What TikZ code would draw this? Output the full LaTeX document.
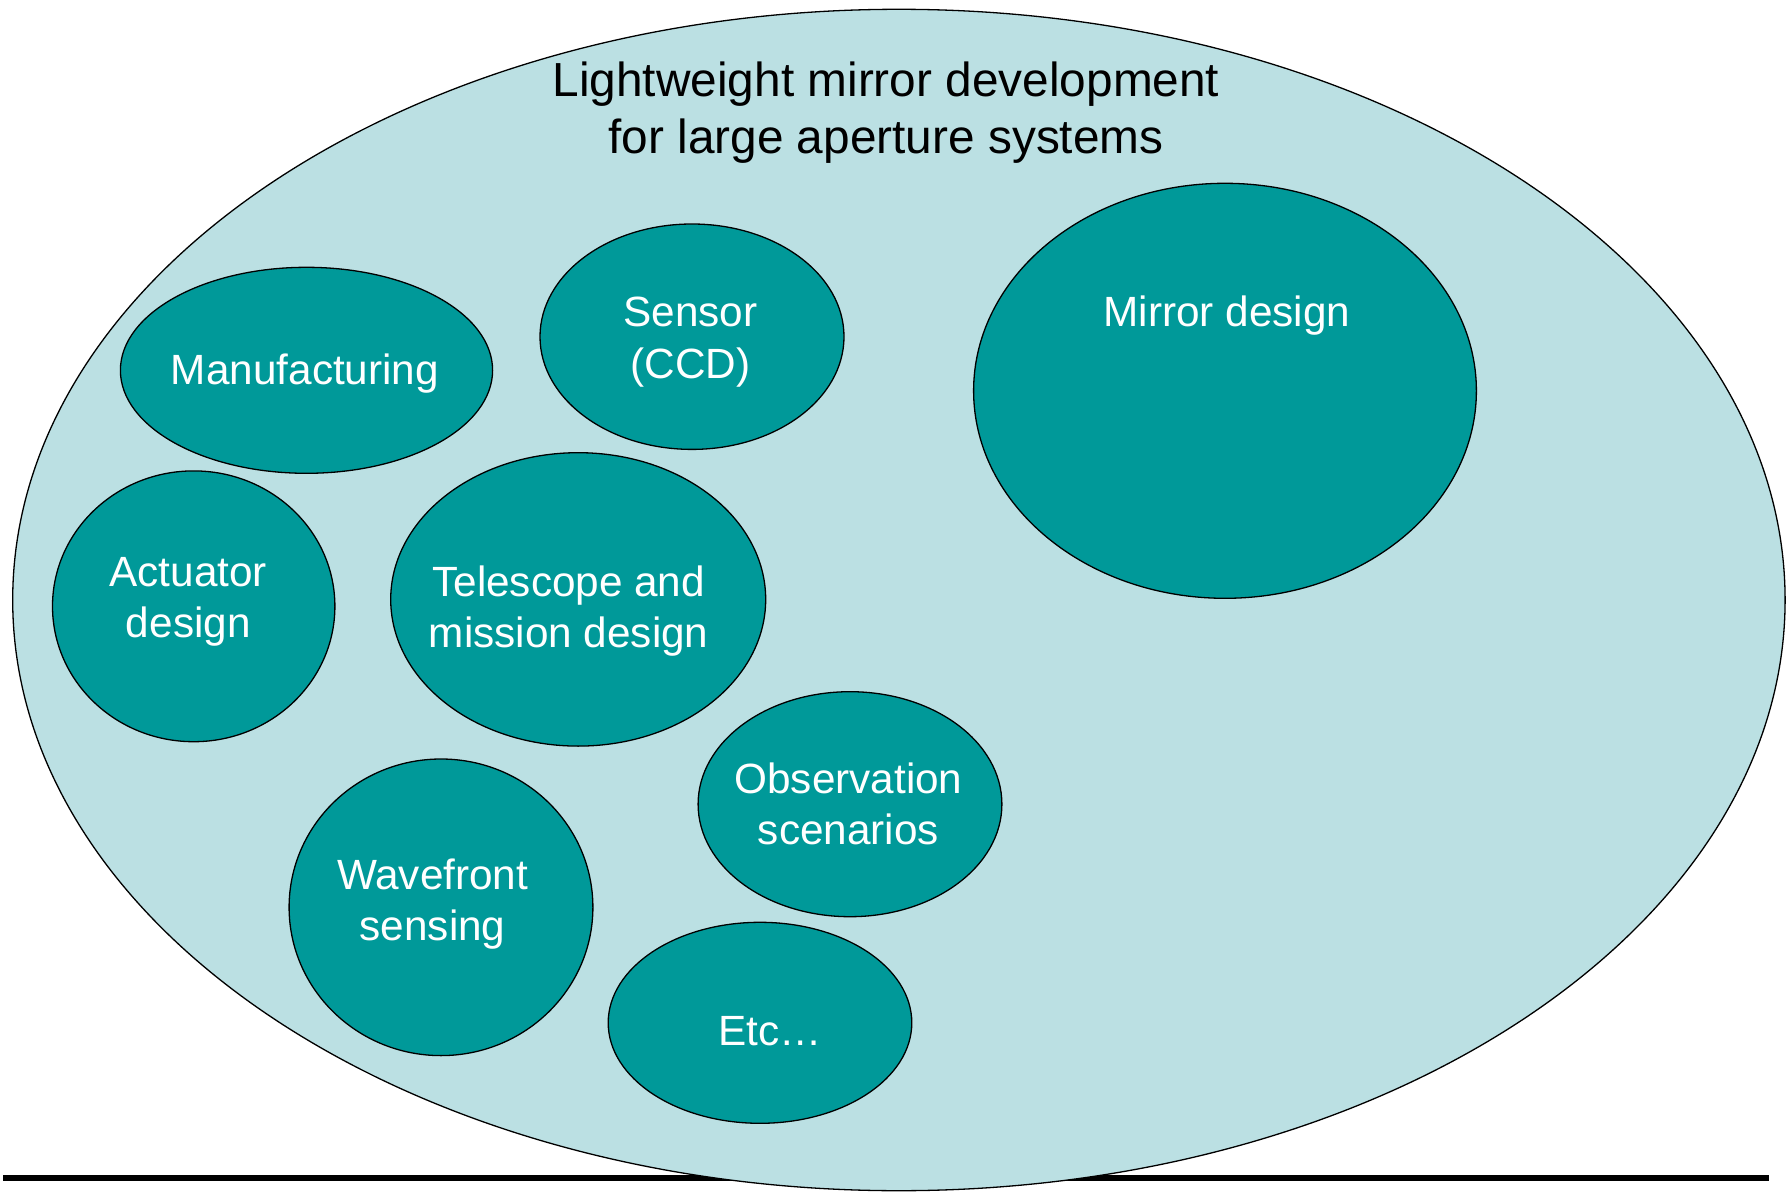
\documentclass[tikz,border=0pt]{standalone}
\usepackage{fontspec}
\setmainfont{Liberation Sans}
\usetikzlibrary{shapes.geometric}

\definecolor{fieldfill}{HTML}{BBE0E3}
\definecolor{topicfill}{HTML}{009999}

% two centred lines whose baseline is the baseline of the first line
\newcommand\stacked[2]{\vtop{\halign{\hfil##\hfil\cr#1\cr#2\cr}}}

\tikzset{
  field/.style={ellipse, draw=black, line width=1.3pt, fill=fieldfill, inner sep=0pt},
  topic/.style={ellipse, draw=black, line width=1.3pt, fill=topicfill, inner sep=0pt},
  topictext/.style={text=white, font=\fontsize{42.3}{51.5}\selectfont, anchor=base, inner sep=0pt},
  headtext/.style={text=black, font=\fontsize{47.8}{57.3}\selectfont, anchor=base, inner sep=0pt},
  groundrule/.style={draw=black, line width=5.7pt}
}

\begin{document}
\begin{tikzpicture}[x=1pt, y=-1pt]
\useasboundingbox (0,0) rectangle (1792,1193);

% ground line, partly hidden behind the main field
\coordinate (ruleL) at (3,1178);
\coordinate (ruleR) at (1769,1178);
\draw[groundrule] (ruleL) -- (ruleR);

% main field
\node[field, minimum width=1772.4pt, minimum height=1181.4pt] (program) at (898.9,600) {};
\node[headtext] (heading) at (886,96.7)
  {\stacked{Lightweight mirror development}{for large aperture systems}};

% topic areas
\node[topic, minimum width=372.2pt, minimum height=206pt]   (manuf)  at (306.5,370.3) {};
\node[topic, minimum width=304pt,   minimum height=225.4pt] (sensor) at (692,336.7) {};
\node[topic, minimum width=502.8pt, minimum height=415pt]   (mirror) at (1225,390.8) {};
\node[topic, minimum width=282.4pt, minimum height=270.8pt] (actu)   at (193.7,606.3) {};
\node[topic, minimum width=375pt,   minimum height=293.4pt] (tele)   at (578.2,599.4) {};
\node[topic, minimum width=303.8pt, minimum height=225pt]   (obs)    at (850,804.2) {};
\node[topic, minimum width=303.8pt, minimum height=296.6pt] (wave)   at (441,907.3) {};
\node[topic, minimum width=303.6pt, minimum height=201pt]   (etc)    at (760,1022.8) {};

% topic labels
\node[topictext] (manufL)  at (305,384)     {Manufacturing};
\node[topictext] (sensorL) at (690.6,326.7) {\stacked{Sensor}{(CCD)}};
\node[topictext] (mirrorL) at (1227,326.7)  {Mirror design};
\node[topictext] (actuL)   at (188.3,586)   {\stacked{Actuator}{design}};
\node[topictext] (teleL)   at (568.7,596)   {\stacked{Telescope and}{mission design}};
\node[topictext] (obsL)    at (848.5,793.3) {\stacked{Observation}{scenarios}};
\node[topictext] (waveL)   at (432.6,889.3) {\stacked{Wavefront}{sensing}};
\node[topictext] (etcL)    at (769.8,1045.7) {Etc…};
\end{tikzpicture}
\end{document}
